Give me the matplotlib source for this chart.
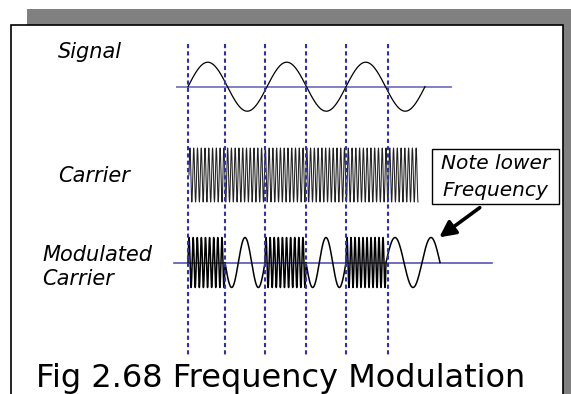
import numpy as np
import matplotlib
matplotlib.use('Agg')
import matplotlib.pyplot as plt
from matplotlib.patches import Rectangle

# diagram is laid out in pixel units of the 571x394 picture (y grows downward)
dash_x = [188, 225, 265, 306, 346, 388]   # half-period markers of the signal
dash_y = [44, 355]

sig_x = [188, 425]
sig_cycles = 3
sig_y0, sig_amp = 86.7, 24.5
sig_base = [177, 451]

car_x = [189, 418]
car_period = 3.77
car_y0, car_amp = 175, 27

mod_edges = [188, 225, 265, 306, 346, 386, 440]
mod_cycles = [9, 1.5, 10, 1.5, 10, 1.5]
mod_sign = [1, -1, 1, -1, 1, 1]
mod_y0, mod_amp = 262.5, 25
mod_base = [174, 492]

fig = plt.figure(figsize=(5.71, 3.94), dpi=100)
ax = fig.add_axes([0, 0, 1, 1])
ax.set_xlim(0, 571)
ax.set_ylim(394, 0)
ax.axis('off')

# shadowed panel
ax.add_patch(Rectangle((27, 9), 560, 400, facecolor='#808080', edgecolor='none'))
ax.add_patch(Rectangle((11, 25), 552, 400, facecolor='white', edgecolor='black', lw=1.2))

# signal
x = np.linspace(sig_x[0], sig_x[1], 800)
y = sig_y0 - sig_amp * np.sin(2 * np.pi * sig_cycles * (x - sig_x[0]) / (sig_x[1] - sig_x[0]))
ax.plot(sig_base, [sig_y0, sig_y0], color='#8080C8', lw=1.4)
ax.plot(x, y, color='black', lw=0.9)

# carrier
x = np.linspace(car_x[0], car_x[1], 6000)
y = car_y0 - car_amp * np.sin(2 * np.pi * (x - car_x[0]) / car_period)
ax.plot(x, y, color='#222222', lw=0.75)

# modulated carrier
mx, my = [], []
for a, b, c, s in zip(mod_edges[:-1], mod_edges[1:], mod_cycles, mod_sign):
    xs = np.linspace(a, b, 600)
    mx.append(xs)
    my.append(mod_y0 - s * mod_amp * np.sin(2 * np.pi * c * (xs - a) / (b - a)))
mx = np.concatenate(mx)
my = np.concatenate(my)
ax.plot(mod_base, [mod_y0, mod_y0], color='#5555B8', lw=1.2)
ax.plot(mx, my, color='black', lw=1.1)

# dashed markers
ax.vlines(dash_x, dash_y[0], dash_y[1], colors='#3030AE', lw=1.5,
          linestyles=(0, (2, 1.5)))

# labels
ax.text(58, 57.7, 'Signal', fontsize=15, style='italic', va='baseline')
ax.text(58, 181.7, 'Carrier', fontsize=15, style='italic', va='baseline')
ax.text(42, 260.7, 'Modulated', fontsize=15, style='italic', va='baseline')
ax.text(42, 285, 'Carrier', fontsize=15, style='italic', va='baseline')

# note box + arrow
ax.add_patch(Rectangle((432, 149), 127, 55, facecolor='white', edgecolor='black', lw=1))
ax.text(495.5, 169.3, 'Note lower', fontsize=14.5, style='italic', ha='center', va='baseline')
ax.text(495.5, 196, 'Frequency', fontsize=14.5, style='italic', ha='center', va='baseline')
ax.annotate('', xy=(437, 239), xytext=(482, 206),
            arrowprops=dict(arrowstyle='-|>', color='black', lw=2.6, mutation_scale=24))

ax.text(36, 387.4, 'Fig 2.68 Frequency Modulation', fontsize=23, va='baseline')

fig.savefig('out.png', dpi=100)
